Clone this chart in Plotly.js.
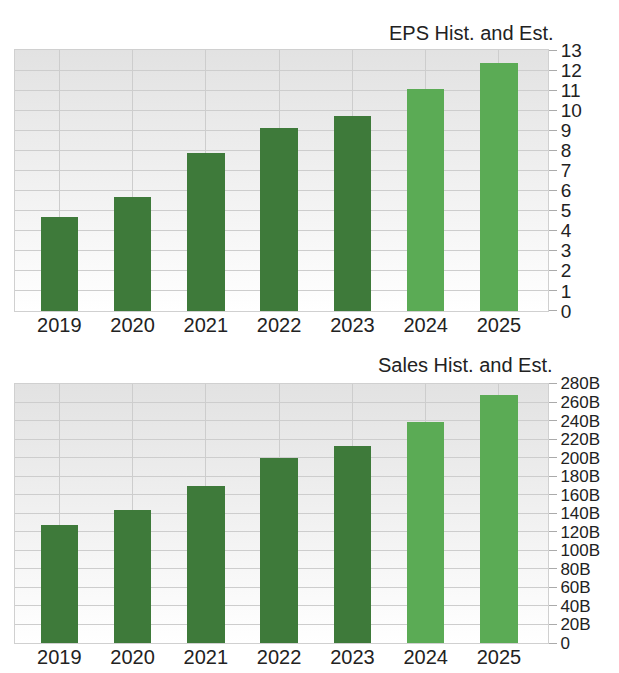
<!DOCTYPE html>
<html><head><meta charset="utf-8">
<script src="https://cdn.plot.ly/plotly-3.0.1.min.js"></script>
<style>html,body{margin:0;padding:0;background:#fff}</style>
</head><body>
<div id="chart" style="width:619px;height:673px"></div>
<script>
const years = ['2019','2020','2021','2022','2023','2024','2025'];
const epsValues = [4.70, 5.69, 7.88, 9.10, 9.71, 11.05, 12.35];
const salesValues = [127.2e9, 143.5e9, 169.0e9, 199.2e9, 212.5e9, 238e9, 268e9];
const isEstimate = [false, false, false, false, false, true, true];
const epsTickVals = [0,1,2,3,4,5,6,7,8,9,10,11,12,13];
const salesTickVals = [0,20e9,40e9,60e9,80e9,100e9,120e9,140e9,160e9,180e9,200e9,220e9,240e9,260e9,280e9];
const salesTickText = ['0','20B','40B','60B','80B','100B','120B','140B','160B','180B','200B','220B','240B','260B','280B'];
const epsTitle = 'EPS Hist. and Est.';
const salesTitle = 'Sales Hist. and Est.';

const histColor = '#3e7a3a';
const estColor = '#5bab55';
const barColors = isEstimate.map(e => e ? estColor : histColor);

const FONT = 'Liberation Sans, Arial, sans-serif';
const gridColor = '#cdcdcd';
const lineColor = '#d0d0d0';

const gradSvg = '<svg xmlns="http://www.w3.org/2000/svg" width="100" height="100" preserveAspectRatio="none">' +
  '<defs><linearGradient id="g" x1="0" y1="0" x2="0" y2="1">' +
  '<stop offset="0" stop-color="#e2e2e2"/><stop offset="1" stop-color="#ffffff"/>' +
  '</linearGradient></defs><rect width="100" height="100" fill="url(#g)"/></svg>';
const gradSrc = 'data:image/svg+xml;charset=utf-8,' + encodeURIComponent(gradSvg);

const traces = [
  {type: 'bar', x: years, y: epsValues, xaxis: 'x', yaxis: 'y',
   marker: {color: barColors, line: {width: 0}}, width: 0.51, hoverinfo: 'skip'},
  {type: 'bar', x: years, y: salesValues, xaxis: 'x2', yaxis: 'y2',
   marker: {color: barColors, line: {width: 0}}, width: 0.51, hoverinfo: 'skip'}
];

const xCommon = {
  type: 'category', range: [-0.605, 6.67], showgrid: true, gridcolor: gridColor, gridwidth: 1,
  ticks: '', showline: true, mirror: true, linecolor: lineColor, linewidth: 1,
  ticklabelstandoff: -4,
  tickfont: {family: FONT, size: 20, color: '#222'}, fixedrange: true
};
const yCommon = {
  side: 'right', ticks: 'outside', ticklen: 8, tickcolor: '#aaaaaa', tickwidth: 1,
  showgrid: true, gridcolor: gridColor, gridwidth: 1, zeroline: false,
  showline: true, mirror: true, linecolor: lineColor, linewidth: 1,
  fixedrange: true, tickmode: 'array'
};

const layout = {
  width: 619, height: 673,
  margin: {l: 15, r: 71, t: 50, b: 30, pad: 0},
  paper_bgcolor: '#ffffff', plot_bgcolor: '#ffffff',
  showlegend: false, hovermode: false, bargap: 0,
  xaxis: Object.assign({}, xCommon, {anchor: 'y'}),
  xaxis2: Object.assign({}, xCommon, {anchor: 'y2'}),
  yaxis: Object.assign({}, yCommon, {anchor: 'x', domain: [0.5599, 1], range: [0, 13], tickvals: epsTickVals, ticktext: epsTickVals.map(String),
    tickfont: {family: FONT, size: 19, color: '#222'}}),
  yaxis2: Object.assign({}, yCommon, {anchor: 'x2', domain: [0, 0.4376], range: [0, 280e9], tickvals: salesTickVals, ticktext: salesTickText,
    tickfont: {family: FONT, size: 17, color: '#222'}}),
  images: [
    {source: gradSrc, xref: 'x domain', yref: 'y domain', x: 0, y: 1, sizex: 1, sizey: 1, xanchor: 'left', yanchor: 'top', sizing: 'stretch', layer: 'below'},
    {source: gradSrc, xref: 'x2 domain', yref: 'y2 domain', x: 0, y: 1, sizex: 1, sizey: 1, xanchor: 'left', yanchor: 'top', sizing: 'stretch', layer: 'below'}
  ],
  annotations: [
    {text: epsTitle, xref: 'paper', yref: 'paper', x: 1.015, y: 1.0287, xanchor: 'right', yanchor: 'middle', showarrow: false, font: {family: FONT, size: 20, color: '#222'}},
    {text: salesTitle, xref: 'paper', yref: 'paper', x: 1.013, y: 0.4688, xanchor: 'right', yanchor: 'middle', showarrow: false, font: {family: FONT, size: 20, color: '#222'}}
  ]
};

Plotly.newPlot('chart', traces, layout, {displayModeBar: false, staticPlot: true});
</script>
</body></html>
